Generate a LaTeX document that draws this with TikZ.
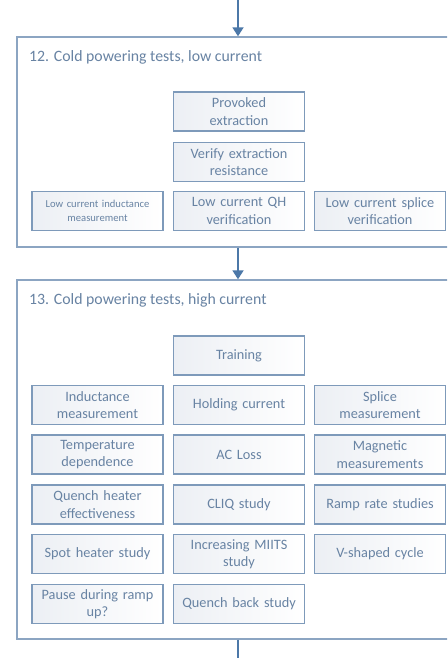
\documentclass[tikz,border=0pt]{standalone}
\usepackage{fontspec}
\setmainfont{Carlito}
\usetikzlibrary{arrows.meta}
\definecolor{frameblue}{HTML}{8CA5C2}
\definecolor{boxblue}{HTML}{7E9ABA}
\definecolor{txtblue}{HTML}{6883A3}
\definecolor{arrowblue}{HTML}{4C78A8}
\definecolor{boxshade}{HTML}{ECEFF4}
\tikzset{
  container/.style={draw=frameblue, line width=1.4pt, minimum width=442pt, inner sep=0pt},
  testbox/.style={draw=boxblue, line width=1.4pt, left color=boxshade, right color=white,
    minimum width=131pt, minimum height=39pt, inner sep=1pt, align=center,
    text=txtblue, font=\fontsize{14.3}{17.3}\selectfont, text width=128pt},
  smallbox/.style={testbox, font=\fontsize{10.6}{14}\selectfont},
  title/.style={anchor=west, text=txtblue, font=\fontsize{15.8}{18}\selectfont, inner sep=0pt},
  flow/.style={draw=arrowblue, line width=1.8pt, -{Triangle[width=11pt,length=9pt]}},
  plain/.style={draw=arrowblue, line width=1.8pt}
}
\begin{document}
\begin{tikzpicture}[x=1pt,y=-1pt]
\clip (0,0) rectangle (447,658);
\fill[white] (0,0) rectangle (447,658);
% containers
\node[container, minimum height=210pt] (c12) at (238,142) {};
\node[container, minimum height=359pt] (c13) at (238,459.5) {};
\node[title] (t12) at (29,57) {12. Cold powering tests, low current};
\node[title] (t13) at (29,300) {13. Cold powering tests, high current};
% connectors
\coordinate (top) at (238,0);
\coordinate (bot) at (238,658);
\draw[flow] (top) -- (c12.north);
\draw[flow] (c12.south) -- (c13.north);
\draw[plain] (c13.south) -- (bot);
% block 12
\node[testbox] (prov) at (239,111.5) {Provoked\\extraction};
\node[testbox] (verif) at (239,162) {Verify extraction\\resistance};
\node[smallbox] (lcind) at (97.5,211) {Low current inductance\\measurement};
\node[testbox] (lcqh) at (239,211) {Low current QH\\verification};
\node[testbox] (lcspl) at (380,211) {Low current splice\\verification};
% block 13
\node[testbox] (train) at (239,355.5) {Training};
\node[testbox] (ind) at (97.5,405) {Inductance\\measurement};
\node[testbox] (hold) at (239,405) {Holding current};
\node[testbox] (spl) at (380,405) {Splice\\measurement};
\node[testbox] (temp) at (97.5,454.5) {Temperature\\dependence};
\node[testbox] (acl) at (239,454.5) {AC Loss};
\node[testbox] (mag) at (380,454.5) {Magnetic\\measurements};
\node[testbox] (qhe) at (97.5,504.5) {Quench heater\\effectiveness};
\node[testbox] (cliq) at (239,504.5) {CLIQ study};
\node[testbox] (ramp) at (380,504.5) {Ramp rate studies};
\node[testbox] (spot) at (97.5,554) {Spot heater study};
\node[testbox] (miits) at (239,554) {Increasing MIITS\\study};
\node[testbox] (vsh) at (380,554) {V-shaped cycle};
\node[testbox] (pause) at (97.5,604) {Pause during ramp\\up?};
\node[testbox] (qback) at (239,604) {Quench back study};
\end{tikzpicture}
\end{document}
